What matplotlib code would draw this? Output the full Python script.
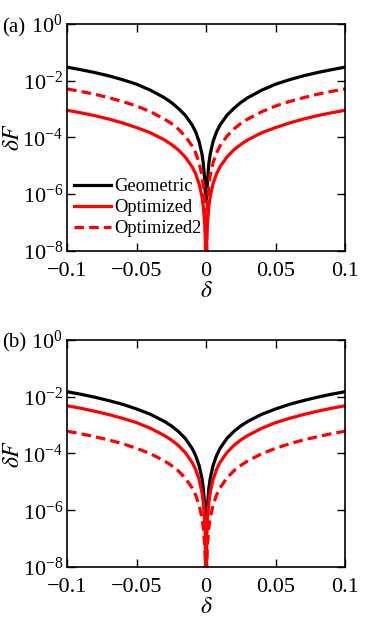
import numpy as np
import matplotlib
matplotlib.use('Agg')
import matplotlib.pyplot as plt

plt.rcParams['font.family'] = ['Liberation Serif', 'DejaVu Serif']
plt.rcParams['mathtext.fontset'] = 'stix'

# delta >= 0 (curves are symmetric, mirrored below)
delta_pos = [0.0, 0.0005, 0.001, 0.002, 0.003, 0.005, 0.0075, 0.01, 0.015,
             0.02, 0.025, 0.03, 0.04, 0.05, 0.06, 0.07, 0.08, 0.09, 0.1]

# panel (a)
geo_a = [6e-7, 8e-7, 3.0e-6, 1.2e-5, 2.6e-5, 7.0e-5, 1.55e-4, 2.7e-4, 6.0e-4,
         1.05e-3, 1.7e-3, 2.5e-3, 4.6e-3, 7.5e-3, 1.08e-2, 1.48e-2, 1.93e-2, 2.43e-2, 3.0e-2]
opt_a = [1e-12, 2.3e-8, 9e-8, 3.6e-7, 8.1e-7, 2.25e-6, 5.1e-6, 9e-6, 2.0e-5,
         3.6e-5, 5.6e-5, 8.1e-5, 1.44e-4, 2.2e-4, 3.2e-4, 4.4e-4, 5.8e-4, 7.3e-4, 9.0e-4]
opt2_a = [1e-12, 1.3e-7, 5.0e-7, 2.0e-6, 4.5e-6, 1.25e-5, 2.8e-5, 4.9e-5, 1.1e-4,
          1.95e-4, 3.1e-4, 4.4e-4, 8.0e-4, 1.27e-3, 1.83e-3, 2.5e-3, 3.3e-3, 4.15e-3, 5.1e-3]

# panel (b)
geo_b = [5e-7, 5.5e-7, 1.5e-6, 6e-6, 1.35e-5, 3.75e-5, 8.4e-5, 1.5e-4, 3.4e-4,
         6e-4, 9.4e-4, 1.35e-3, 2.4e-3, 3.7e-3, 5.4e-3, 7.3e-3, 9.6e-3, 1.22e-2, 1.5e-2]
opt_b = [1e-12, 1.2e-7, 4.8e-7, 1.9e-6, 4.3e-6, 1.2e-5, 2.7e-5, 4.8e-5, 1.08e-4,
         1.92e-4, 3.0e-4, 4.3e-4, 7.7e-4, 1.22e-3, 1.73e-3, 2.35e-3, 3.07e-3, 3.9e-3, 4.8e-3]
opt2_b = [1e-12, 1.5e-8, 6.1e-8, 2.45e-7, 5.5e-7, 1.52e-6, 3.4e-6, 6.1e-6, 1.37e-5,
          2.45e-5, 3.8e-5, 5.5e-5, 9.8e-5, 1.52e-4, 2.2e-4, 3.0e-4, 3.9e-4, 4.95e-4, 6.1e-4]

labels = ['Geometric', 'Optimized', 'Optimized2']
xticks = [-0.1, -0.05, 0, 0.05, 0.1]
xticklabels = ['\u22120.1', '\u22120.05', '0', '0.05', '0.1']
yticks = [1e-8, 1e-6, 1e-4, 1e-2, 1e0]


def mirror(x, y):
    x = np.asarray(x)
    y = np.asarray(y)
    return np.concatenate([-x[:0:-1], x]), np.concatenate([y[:0:-1], y])


fig = plt.figure(figsize=(3.73, 6.17), dpi=100)
ax_a = fig.add_axes([0.18, 0.594, 0.745, 0.367])
ax_b = fig.add_axes([0.18, 0.081, 0.745, 0.368])

for ax, data, tag in [(ax_a, (geo_a, opt_a, opt2_a), '(a)'),
                      (ax_b, (geo_b, opt_b, opt2_b), '(b)')]:
    styles = [dict(color='black', ls='-'), dict(color='red', ls='-'),
              dict(color='red', ls=(0, (3.0, 1.6)))]
    for y, st, lab in zip(data, styles, labels):
        xx, yy = mirror(delta_pos, y)
        ax.plot(xx, yy, lw=2.3, label=lab, **st)
    ax.set_yscale('log')
    ax.set_xlim(-0.1, 0.1)
    ax.set_ylim(1e-8, 1e0)
    ax.set_xticks(xticks)
    ax.set_xticklabels(xticklabels)
    ax.set_yticks(yticks)
    ax.yaxis.set_minor_locator(matplotlib.ticker.NullLocator())
    ax.tick_params(direction='in', top=True, right=True, labelsize=16,
                   length=6, width=1)
    ax.tick_params(axis='x', pad=8)
    ax.tick_params(axis='y', pad=3)
    for s in ax.spines.values():
        s.set_linewidth(1.2)
    ax.set_xlabel(r'$\delta$', fontsize=17, labelpad=0)
    ax.set_ylabel(r'$\delta F$', fontsize=17, labelpad=-1)
    ax.text(-0.235, 0.965, tag, transform=ax.transAxes, fontsize=15,
            ha='left', va='baseline')

ax_a.legend(loc='upper left', bbox_to_anchor=(0.025, 0.32), frameon=False,
            fontsize=13.3, handlelength=2.0, handletextpad=0.15,
            labelspacing=0.22, borderpad=0, borderaxespad=0)

fig.savefig('out.png', dpi=100)
